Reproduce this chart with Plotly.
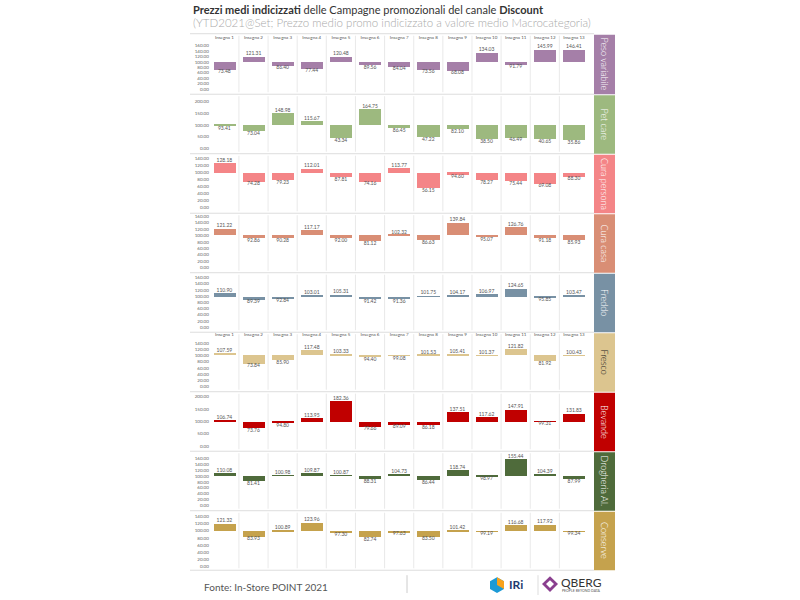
import plotly.graph_objects as go

insegne = [f"Insegna {i}" for i in range(1, 14)]
categories = ["Peso variabile", "Pet care", "Cura persona", "Cura casa", "Freddo",
              "Fresco", "Bevande", "Drogheria Al.", "Conserve"]

peso_variabile = [73.48, 121.31, 86.40, 77.44, 120.48, 89.56, 84.04, 73.56, 68.08, 134.03, 91.79, 145.99, 146.41]
pet_care = [93.41, 73.04, 148.98, 115.67, 43.34, 164.75, 86.45, 47.22, 82.10, 38.50, 46.49, 40.65, 35.86]
cura_persona = [128.18, 74.28, 79.23, 112.01, 87.81, 74.16, 113.77, 56.15, 94.60, 78.27, 75.44, 69.08, 88.30]
cura_casa = [121.22, 92.86, 90.28, 117.17, 92.00, 81.12, 102.32, 86.63, 139.84, 95.07, 126.76, 91.18, 85.93]
freddo = [110.90, 89.39, 92.84, 103.01, 105.31, 91.42, 91.36, 101.75, 104.17, 106.97, 124.65, 95.85, 103.47]
fresco = [107.59, 73.84, 85.90, 117.48, 103.33, 94.40, 99.08, 101.53, 105.41, 101.37, 121.82, 81.92, 100.43]
bevande = [106.74, 73.76, 94.80, 113.95, 182.36, 79.66, 89.09, 86.18, 137.51, 117.62, 147.91, 99.31, 131.83]
drogheria = [110.08, 81.41, 100.98, 109.87, 100.87, 88.31, 104.73, 86.44, 118.74, 98.97, 155.44, 104.39, 87.99]
conserve = [121.32, 83.93, 100.89, 123.96, 97.30, 82.74, 97.63, 83.50, 101.42, 99.19, 116.68, 117.92, 99.34]

series = [peso_variabile, pet_care, cura_persona, cura_casa, freddo, fresco, bevande, drogheria, conserve]
colors = ["#A57FA8", "#9DB97F", "#F48587", "#D98E75", "#7891A4", "#DCC58F", "#C00000", "#4F6B3B", "#C5A24D"]
label_colors = ["white", "white", "white", "white", "white", "#222222", "white", "white", "white"]
axis_max = [160, 200, 140, 160, 160, 140, 200, 160, 140]
axis_step = [20, 50, 20, 20, 20, 20, 50, 20, 20]
# pixel layout (top of max, bottom at zero)
y_top = [44, 100, 158, 216, 278, 344, 398, 460, 519]
y_bot = [88, 148, 207, 268, 328, 388, 448, 508, 569]
seps = [32, 93, 153, 213, 273, 333, 393, 453, 513, 573]
header_rows = [0, 5]

W, H = 800, 600
px = lambda x: x / W
py = lambda y: 1 - y / H
X0, X1 = 209.8, 588.5

fig = go.Figure()
layout = {}
shapes = []
annotations = []
idx = list(range(len(insegne)))

for r, (vals, col) in enumerate(zip(series, colors)):
    n = r + 1
    xa = "x" if n == 1 else f"x{n}"
    ya = "y" if n == 1 else f"y{n}"
    fig.add_trace(go.Bar(x=idx, y=[v - 100 for v in vals], base=100, width=0.76,
                         marker=dict(color=col, line=dict(width=0)), xaxis=xa, yaxis=ya,
                         hoverinfo="skip", showlegend=False))
    fig.add_trace(go.Scatter(x=idx, y=vals, mode="text",
                             text=[f"{v:.2f}" for v in vals],
                             textposition=["top center" if v >= 100 else "bottom center" for v in vals],
                             textfont=dict(size=5, color="#555555", family="Lato"),
                             cliponaxis=False, xaxis=xa, yaxis=ya, hoverinfo="skip", showlegend=False))
    xkey = "xaxis" if n == 1 else f"xaxis{n}"
    ykey = "yaxis" if n == 1 else f"yaxis{n}"
    layout[xkey] = dict(domain=[px(X0), px(X1)], range=[-0.5, 12.5], anchor=ya,
                        showgrid=False, zeroline=False, showline=False, fixedrange=True,
                        tickvals=idx, ticktext=insegne, side="top", ticks="",
                        ticklabelstandoff=5,
                        showticklabels=(r in header_rows),
                        tickfont=dict(size=4.5, color="#555555", family="Lato"))
    tv = list(range(0, axis_max[r] + 1, axis_step[r]))
    layout[ykey] = dict(domain=[py(y_bot[r]), py(y_top[r])], range=[0, axis_max[r]], anchor=xa,
                        showgrid=False, zeroline=False, showline=False, fixedrange=True,
                        tickvals=tv, ticktext=[f"{t:.2f}" for t in tv], ticks="",
                        tickfont=dict(size=4.5, color="#666666", family="Lato"))
    # column dividers
    for k in range(12):
        shapes.append(dict(type="line", xref=xa, yref="paper", x0=k + 0.5, x1=k + 0.5,
                           y0=py(seps[r + 1] - 2), y1=py(seps[r] + 2),
                           line=dict(color="#E3E3E3", width=0.8)))
    # label strip
    shapes.append(dict(type="rect", xref="paper", yref="paper", x0=px(594), x1=px(615),
                       y0=py(seps[r + 1]), y1=py(seps[r] + 1), fillcolor=col, line=dict(width=0)))
    annotations.append(dict(text=categories[r], xref="paper", yref="paper",
                            x=px(604.5), y=py((seps[r] + seps[r + 1]) / 2), showarrow=False,
                            xanchor="center", yanchor="middle",
                            textangle=90, font=dict(size=9, color=label_colors[r], family="Lato", weight=300)))

for s in seps:
    shapes.append(dict(type="line", xref="paper", yref="paper", x0=px(190), x1=px(594),
                       y0=py(s), y1=py(s), line=dict(color="#DDDDDD", width=1)))

# title
annotations.append(dict(text="<b>Prezzi medi indicizzati</b> delle Campagne promozionali del canale <b>Discount</b>",
                        xref="paper", yref="paper", x=px(191), y=py(8), xanchor="left", yanchor="middle",
                        showarrow=False, font=dict(size=11, color="#333333", family="Lato")))
annotations.append(dict(text="(YTD2021@Set; Prezzo medio promo indicizzato a valore medio Macrocategoria)",
                        xref="paper", yref="paper", x=px(191), y=py(21), xanchor="left", yanchor="middle",
                        showarrow=False, font=dict(size=11.5, color="#AAAAAA", family="Lato", weight=300)))
# footer
annotations.append(dict(text="Fonte: In-Store POINT 2021", xref="paper", yref="paper",
                        x=px(202), y=py(590), xanchor="left", yanchor="middle", showarrow=False,
                        font=dict(size=10, color="#555555", family="Lato")))
shapes.append(dict(type="line", xref="paper", yref="paper", x0=px(407), x1=px(407),
                   y0=py(596), y1=py(578), line=dict(color="#CCCCCC", width=1)))
# IRi logo approximation
shapes.append(dict(type="path", xref="paper", yref="paper",
                   path=f"M {px(497)},{py(580)} L {px(504)},{py(584)} L {px(504)},{py(592)} "
                        f"L {px(497)},{py(596)} L {px(490)},{py(592)} L {px(490)},{py(584)} Z",
                   fillcolor="#1B9AD6", line=dict(width=0)))
shapes.append(dict(type="path", xref="paper", yref="paper",
                   path=f"M {px(497)},{py(580)} L {px(504)},{py(584)} L {px(504)},{py(592)} L {px(497)},{py(588)} Z",
                   fillcolor="#F7A21B", line=dict(width=0)))
annotations.append(dict(text="<b>IRi</b>", xref="paper", yref="paper", x=px(507), y=py(587),
                        xanchor="left", yanchor="middle", showarrow=False,
                        font=dict(size=12, color="#1F3A6E", family="Lato")))
shapes.append(dict(type="line", xref="paper", yref="paper", x0=px(538), x1=px(538),
                   y0=py(598), y1=py(578), line=dict(color="#DDDDDD", width=1)))
shapes.append(dict(type="path", xref="paper", yref="paper",
                   path=f"M {px(550)},{py(579)} L {px(558)},{py(587)} L {px(550)},{py(595)} L {px(542)},{py(587)} Z",
                   fillcolor="#8A3F8F", line=dict(width=0)))
shapes.append(dict(type="path", xref="paper", yref="paper",
                   path=f"M {px(550)},{py(583)} L {px(554)},{py(587)} L {px(550)},{py(591)} L {px(546)},{py(587)} Z",
                   fillcolor="white", line=dict(width=0)))
annotations.append(dict(text="QBERG", xref="paper", yref="paper", x=px(559), y=py(585),
                        xanchor="left", yanchor="middle", showarrow=False,
                        font=dict(size=12, color="#333333", family="Lato")))
annotations.append(dict(text="PEOPLE BEYOND DATA", xref="paper", yref="paper", x=px(560), y=py(594),
                        xanchor="left", yanchor="middle", showarrow=False,
                        font=dict(size=3.5, color="#555555", family="Lato")))

fig.update_layout(width=W, height=H, margin=dict(l=0, r=0, t=0, b=0),
                  paper_bgcolor="white", plot_bgcolor="white", bargap=0,
                  shapes=shapes, annotations=annotations, showlegend=False,
                  font=dict(family="Lato"), **layout)
fig.write_html("out.html")
